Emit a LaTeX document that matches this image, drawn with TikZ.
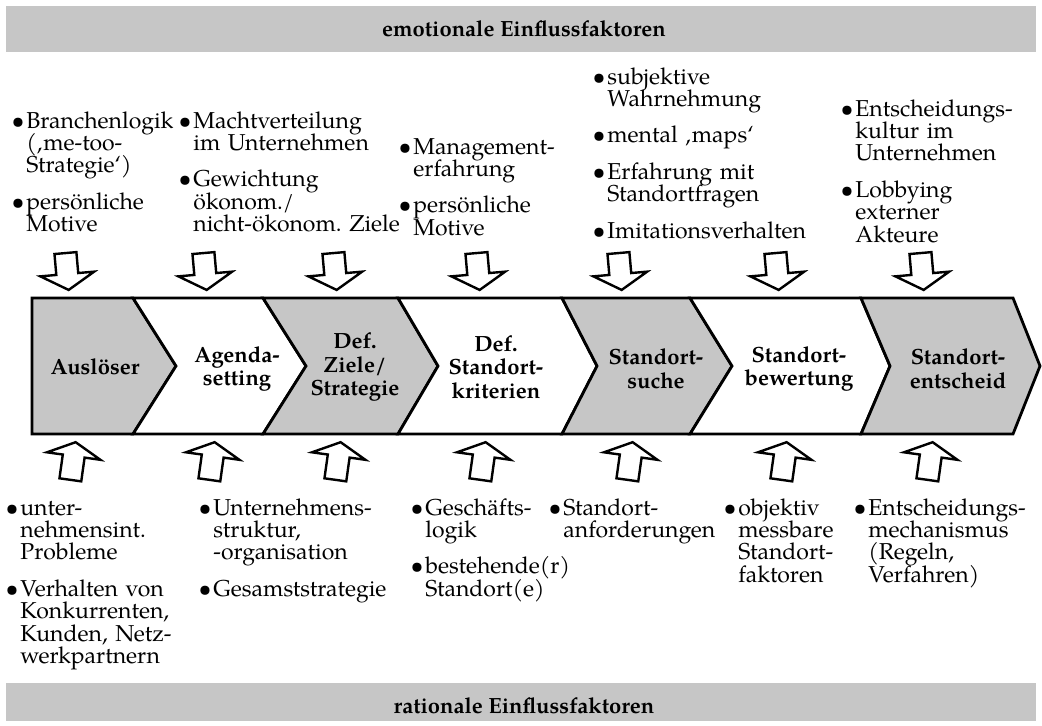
\documentclass[tikz,border=0pt]{standalone}
\usepackage{fontspec}
\setmainfont{TeX Gyre Pagella}
\frenchspacing
\definecolor{grau}{RGB}{198,198,198}
\newcommand{\pkt}{\leavevmode\llap{\textbullet\hspace{1pt}}}
\newcommand{\listenschrift}{\fontsize{11.5}{11.2}\selectfont\lineskiplimit-5pt\relax}

\begin{document}
\begin{tikzpicture}[x=0.5pt, y=-0.5pt,
    balken/.style={fill=grau},
    titel/.style={font=\fontsize{11}{13}\selectfont\bfseries, anchor=base},
    stufe/.style={draw, line width=1.4pt, line join=miter},
    phase/.style={font=\fontsize{11}{11.75}\selectfont\bfseries, align=center},
    liste/.style={font=\listenschrift, text width=110pt, align=left, anchor=base west, inner sep=0pt},
    pfeil/.style={draw, line width=1.2pt, fill=white, line join=miter}]
    \useasboundingbox (0,0) rectangle (1042,725);
    \fill[balken] (6,6) rectangle (1036,52);
    \node[titel] (emo) at (524,36) {emotionale Einflussfaktoren};
    \fill[balken] (6,683) rectangle (1036,721);
    \node[titel] (rat) at (524,713) {rationale Einflussfaktoren};
    \foreach \a/\b/\c/\d/\f in {32/32/133/176/grau, 133/176/263/306/white, 263/306/398/438/grau,
        398/438/562/597/white, 562/597/690/732/grau, 690/732/861/890/white, 861/890/1013/1040/grau}
      \draw[stufe, fill=\f] (\a,298) -- (\c,298) -- (\d,366) -- (\c,434) -- (\a,434) -- (\b,366) -- cycle;
    \node[phase] (p1) at (95,367) {Auslöser};
    \node[phase] (p2) at (237,369) {Agenda-\\setting};
    \node[phase] (p3) at (355,367) {Def.\\Ziele/\\Strategie};
    \node[phase] (p4) at (496,367) {Def.\\Standort-\\kriterien};
    \node[phase] (p5) at (656,369) {Standort-\\suche};
    \node[phase] (p6) at (799,369) {Standort-\\bewertung};
    \node[phase] (p7) at (958,369) {Standort-\\entscheid};
    \foreach \x in {67,205,335,478,620,777,922}
      \draw[pfeil, shift={(\x,271)}, rotate=5] (-11,-18) -- (11,-18) -- (11,3) -- (27,3) -- (0,19) -- (-27,3) -- (-11,3) -- cycle;
    \foreach \x in {73,212,338,483,630,784,930}
      \draw[pfeil, shift={(\x,461)}, rotate=-8] (-11,19) -- (11,19) -- (11,-5) -- (27,-5) -- (0,-19) -- (-27,-5) -- (-11,-5) -- cycle;
    \node[liste] (e1) at (26,128) {\pkt Branchenlogik\\(‚me-too-\\Strategie‘)\\[7pt]\pkt persönliche\\Motive};
    \node[liste] (e2) at (193,128) {\pkt Machtverteilung\\im Unternehmen\\[7pt]\pkt Gewichtung\\ökonom./\\nicht-ökonom. Ziele};
    \node[liste] (e3) at (413,154) {\pkt Management-\\erfahrung\\[7pt]\pkt persönliche\\Motive};
    \node[liste] (e4) at (607,84) {\pkt subjektive\\Wahrnehmung\\[7pt]\pkt mental ‚maps‘\\[7pt]\pkt Erfahrung mit\\Standortfragen\\[7pt]\pkt Imitationsverhalten};
    \node[liste] (e5) at (855,116) {\pkt Entscheidungs-\\kultur im\\Unternehmen\\[7pt]\pkt Lobbying\\externer\\Akteure};
    \node[liste] (r1) at (20,515) {\pkt unter-\\nehmensint.\\Probleme\\[7pt]\pkt Verhalten von\\Konkurrenten,\\Kunden, Netz-\\werkpartnern};
    \node[liste] (r2) at (213,515) {\pkt Unternehmens-\\struktur,\\-organisation\\[7pt]\pkt Gesamststrategie};
    \node[liste] (r3) at (425,515) {\pkt Geschäfts-\\logik\\[7pt]\pkt bestehende(r)\\Standort(e)};
    \node[liste] (r4) at (563,515) {\pkt Standort-\\anforderungen};
    \node[liste] (r5) at (738,515) {\pkt objektiv\\messbare\\Standort-\\faktoren};
    \node[liste] (r6) at (868,515) {\pkt Entscheidungs-\\mechanismus\\(Regeln,\\Verfahren)};
\end{tikzpicture}
\end{document}
